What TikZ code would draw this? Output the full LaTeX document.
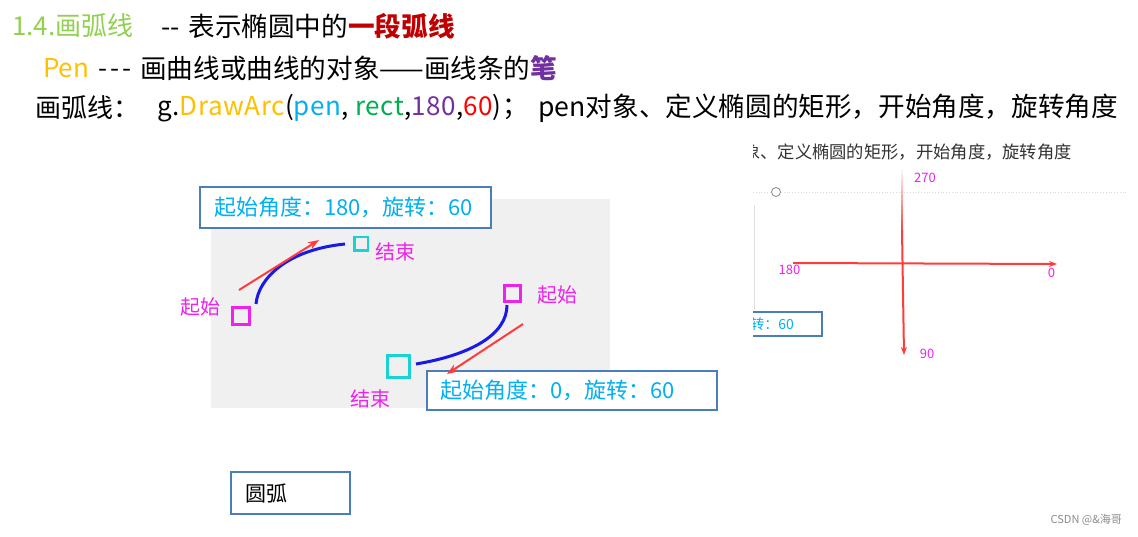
\documentclass[tikz,border=0pt]{standalone}
\usepackage{fontspec}
\setmainfont{Noto Sans CJK SC}
\usetikzlibrary{arrows.meta}
\definecolor{tgreen}{HTML}{92D050}
\definecolor{dred}{HTML}{C00000}
\definecolor{orng}{HTML}{FFC000}
\definecolor{purp}{HTML}{7030A0}
\definecolor{lblue}{HTML}{00B0F0}
\definecolor{grn}{HTML}{00B050}
\definecolor{pred}{HTML}{FF0000}
\definecolor{mag}{HTML}{EE22EE}
\definecolor{cyn}{HTML}{19D3D3}
\definecolor{boxblue}{HTML}{4A7EBB}
\definecolor{arcblue}{HTML}{1A1AE6}
\definecolor{arred}{HTML}{FF3B3B}
\definecolor{bggray}{HTML}{F0F0F0}
\tikzset{
  bigtxt/.style={inner sep=0pt, anchor=west, font=\fontsize{26}{30}\selectfont},
  bigtxtl/.style={inner sep=0pt, anchor=west, font=\fontsize{26.6}{30}\selectfont},
  infobox/.style={draw=boxblue, line width=1.5pt, fill=white, text=lblue, inner ysep=0pt, inner xsep=14pt, align=left, font=\fontsize{22}{24}\selectfont},
  sqm/.style={draw=mag, line width=3pt, inner sep=0pt},
  sqc/.style={draw=cyn, line width=3pt, inner sep=0pt},
  maglbl/.style={text=mag, inner sep=0pt, font=\fontsize{20}{24}\selectfont},
  arcline/.style={draw=arcblue, line width=3pt},
  redarrow/.style={draw=arred, line width=2pt, -{Stealth[length=11pt,width=8pt]}},
  axarrow/.style={draw=arred, line width=2pt, -{Stealth[length=8pt,width=6pt]}},
  axlbl/.style={text=mag, inner sep=0pt, font=\fontsize{13}{15}\selectfont},
}
\begin{document}
\begin{tikzpicture}[x=1pt,y=-1pt]
\useasboundingbox (0,0) rectangle (1138,536);
\fill[white] (0,0) rectangle (1138,536);

% --- header text
\node[bigtxt, text=tgreen] (t1) at (12,26) {1.4.画弧线};
\node[bigtxtl] (t1b) at (161,26) {{-}{-}\hspace{3pt} 表示椭圆中的\textcolor{dred}{\bfseries 一段弧线}};
\node[bigtxt] (t2a) at (43,68) {\textcolor{orng}{Pen}\hspace{3pt} {\addfontfeature{LetterSpace=12}{-}{-}{-}}};
\node[bigtxtl] (t2b) at (140,68) {画曲线或曲线的对象——画线条的\textcolor{purp}{\bfseries 笔}};
\node[bigtxt] (t3a) at (35,108) {画弧线：};
\node[bigtxt] (t3b) at (157,108) {\addfontfeature{LetterSpace=2.5}g.\textcolor{orng}{DrawArc}(\textcolor{lblue}{pen}, \textcolor{grn}{rect},\textcolor{purp}{180},\textcolor{pred}{60})；};
\node[bigtxtl, anchor=east] (t3c) at (1118,108) {pen对象、定义椭圆的矩形，开始角度，旋转角度};

% --- middle diagram
\node[fill=bggray, minimum width=399pt, minimum height=209pt, inner sep=0pt] (canvas) at (410.5,303.5) {};
\node[infobox, text width=263pt, minimum height=41pt] (b1) at (345.5,207.5) {起始角度：180，旋转：60};
\node[infobox, inner xsep=13pt, text width=264pt, minimum height=39pt] (b2) at (572,390.5) {起始角度：0，旋转：60};
\node[draw=boxblue, line width=1.5pt, fill=white, inner xsep=14pt, inner ysep=0pt, text width=91pt, align=left, minimum height=42pt, font=\fontsize{21}{24}\selectfont] (b3) at (290.5,493) {圆弧};

\node[sqm, minimum size=17pt] (s1) at (240.5,315.5) {};
\node[sqc, line width=2.5pt, minimum size=13.5pt] (e1) at (361,243.5) {};
\node[sqm, minimum size=16pt] (s2) at (512,293.5) {};
\node[sqc, minimum size=22pt] (e2) at (398.5,366) {};

\node[maglbl] (ls1) at (200,307) {起始};
\node[maglbl] (le1) at (395.5,252) {结束};
\node[maglbl] (ls2) at (557,295) {起始};
\node[maglbl] (le2) at (370.5,399) {结束};

\coordinate (a1s) at (256,304);
\coordinate (a1e) at (345,244);
\coordinate (a2s) at (507,305);
\coordinate (a2e) at (416,364);
\draw[arcline] (a1s) .. controls (258,280) and (285,250) .. (a1e);
\draw[arcline] (a2s) .. controls (507,335) and (470,355) .. (a2e);

\coordinate (r1s) at (239,290);
\coordinate (r1e) at (319,240);
\coordinate (r2s) at (523,324);
\coordinate (r2e) at (447,374);
\draw[redarrow] (r1s) -- (r1e);
\draw[redarrow] (r2s) -- (r2e);

% --- right panel (clipped screenshot)
\begin{scope}
\clip (753,140) rectangle (1138,370);
\node[inner sep=0pt, anchor=east, text=black!80, font=\fontsize{17.3}{19}\selectfont] (rt) at (1072,153) {pen对象、定义椭圆的矩形，开始角度，旋转角度};
\draw[black!15, dotted, line width=0.8pt] (753,192) -- (1128,192);
\node[circle, draw=black!45, fill=white, line width=0.8pt, minimum size=9pt, inner sep=0pt] (dot) at (776,192) {};
\draw[black!12, line width=0.8pt] (754,205) -- (754,310);
\node[draw=boxblue, line width=1.5pt, fill=white, minimum width=120pt, minimum height=24pt, inner sep=0pt] (b4) at (762,324) {};
\node[inner sep=0pt, anchor=east, text=lblue, font=\fontsize{14}{16}\selectfont] (b4t) at (794,324) {起始角度：180，旋转：60};
\end{scope}

\coordinate (h0) at (793,263);
\coordinate (h1) at (1057,264);
\coordinate (v0) at (902,230);
\coordinate (v1) at (904,355);
\foreach \i in {0,...,11} {
  \draw[arred, line width=2pt, opacity={(\i+1)/13}] (902,{170+5*\i}) -- (902,{175+5*\i});
}
\draw[axarrow] (h0) -- (h1);
\draw[axarrow] (v0) -- (v1);
\node[axlbl] (l270) at (925,178) {270};
\node[axlbl] (l180) at (789.5,269.5) {180};
\node[axlbl] (l0) at (1051.5,273) {0};
\node[axlbl] (l90) at (927,354) {90};

\node[inner sep=0pt, anchor=east, text=black!45, font=\fontsize{11}{13}\selectfont] (wm) at (1122,520) {CSDN @\&海哥};
\end{tikzpicture}
\end{document}
